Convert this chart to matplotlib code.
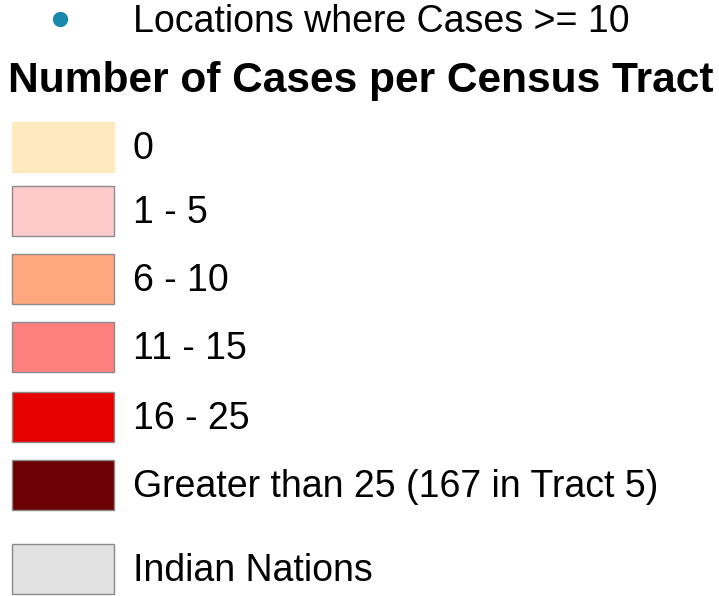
import matplotlib.pyplot as plt
from matplotlib.patches import Rectangle

# legend content
point_label = "Locations where Cases >= 10"
point_color = "#1a87ad"
title = "Number of Cases per Census Tract"
class_labels = ["0", "1 - 5", "6 - 10", "11 - 15", "16 - 25",
                "Greater than 25 (167 in Tract 5)", "Indian Nations"]
class_colors = ["#ffe9bf", "#ffcaca", "#ffa87f", "#ff7f7f", "#e60000",
                "#6c0000", "#e1e1e1"]
has_border = [False, True, True, True, True, True, True]

# swatch top edges (px) for each row
row_tops = [122, 186, 254, 322, 392, 460, 544]

plt.rcParams['font.family'] = ['Liberation Sans', 'DejaVu Sans']

fig = plt.figure(figsize=(7.19, 5.96), dpi=100)
ax = fig.add_axes([0, 0, 1, 1])
ax.set_xlim(0, 719)
ax.set_ylim(596, 0)
ax.axis('off')

# point symbol row
ax.plot(60, 19, 'o', color=point_color, markersize=10)
ax.text(133, 32, point_label, fontsize=27, va='baseline', ha='left')

ax.text(8, 92, title, fontsize=30.6, fontweight='bold', va='baseline', ha='left')

sw_w, sw_h = 102, 50
for lab, col, brd, top in zip(class_labels, class_colors, has_border, row_tops):
    ax.add_patch(Rectangle((12, top), sw_w, sw_h, facecolor=col,
                           edgecolor='#8a8a8a' if brd else col, linewidth=1))
    ax.text(133, top + sw_h / 2 + 12, lab, fontsize=27, va='baseline', ha='left')

fig.savefig("out.png", dpi=100)
